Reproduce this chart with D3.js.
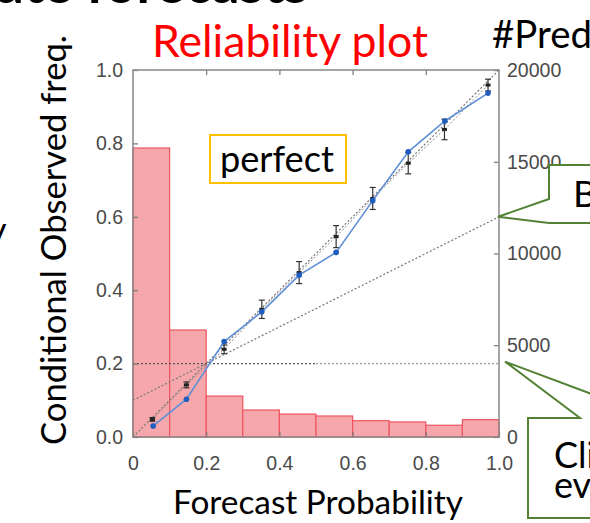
<!DOCTYPE html>
<html>
<head>
<meta charset="utf-8">
<script src="https://d3js.org/d3.v7.min.js"></script>
<style>
  body { margin: 0; background: #fff; }
  svg { display: block; }
  .tick text { font-family: 'Liberation Sans', Arial, sans-serif; fill: #4a4a4a; }
</style>
</head>
<body>
<div id="chart"></div>
<script>
// histogram of forecasts per probability bin (#Pred, right axis)
const binStart = [0, 0.1, 0.2, 0.3, 0.4, 0.5, 0.6, 0.7, 0.8, 0.9];
const binCount = [15750, 5830, 2230, 1470, 1250, 1145, 890, 820, 640, 945];

// reliability curve (blue)
const relProb = [0.055, 0.146, 0.249, 0.352, 0.454, 0.555, 0.655, 0.752, 0.852, 0.970];
const relFreq = [0.030, 0.103, 0.260, 0.341, 0.441, 0.503, 0.644, 0.777, 0.861, 0.937];

// second estimate with error bars (black)
const errProb = [0.053, 0.146, 0.249, 0.352, 0.454, 0.555, 0.655, 0.752, 0.851, 0.970];
const errFreq = [0.048, 0.142, 0.239, 0.348, 0.448, 0.546, 0.650, 0.746, 0.838, 0.959];
const errHalf = [0.005, 0.008, 0.012, 0.025, 0.030, 0.030, 0.030, 0.029, 0.028, 0.016];

const climate = 0.2;
const probTicks = [0, 0.2, 0.4, 0.6, 0.8, 1.0];
const countTicks = [0, 5000, 10000, 15000, 20000];

const W = 590, H = 523;
const svg = d3.select("#chart").append("svg").attr("width", W).attr("height", H);

const x = d3.scaleLinear().domain([0, 1]).range([133, 499]);
const y = d3.scaleLinear().domain([0, 1]).range([437, 70]);
const yc = d3.scaleLinear().domain([0, 20000]).range([437, 70]);

const slide = "Lato, 'Open Sans', sans-serif";

// fit a text to a given width by scaling its font size
function fit(t, w) {
  const len = t.node().getComputedTextLength();
  const fs = parseFloat(t.attr("font-size"));
  t.attr("font-size", fs * w / len);
  return t;
}

// histogram bars
svg.append("g").selectAll("rect")
  .data(binStart.map((b, i) => ({ b, c: binCount[i] })))
  .join("rect")
    .attr("x", d => x(d.b))
    .attr("y", d => yc(d.c))
    .attr("width", d => x(d.b + 0.1) - x(d.b))
    .attr("height", d => yc(0) - yc(d.c))
    .attr("fill", "#f5a7ab")
    .attr("stroke", "#ee5560")
    .attr("stroke-width", 1.2);

// reference lines: perfect, no-skill, climatology
const ref = svg.append("g").attr("fill", "none").attr("stroke-dasharray", "2,2").attr("stroke-width", 1.2);
ref.append("line").attr("x1", x(0)).attr("y1", y(0)).attr("x2", x(1)).attr("y2", y(1)).attr("stroke", "#777");
ref.append("line").attr("x1", x(0)).attr("y1", y(climate / 2)).attr("x2", x(1)).attr("y2", y((1 + climate) / 2)).attr("stroke", "#777");
ref.append("line").attr("x1", x(0)).attr("y1", y(climate)).attr("x2", x(0.5)).attr("y2", y(climate)).attr("stroke", "#555");
ref.append("line").attr("x1", x(0.5)).attr("y1", y(climate)).attr("x2", x(1)).attr("y2", y(climate)).attr("stroke", "#999");

// black series with error bars
const errData = errProb.map((p, i) => ({ p, f: errFreq[i], e: errHalf[i] }));
svg.append("path")
  .datum(errData)
  .attr("fill", "none")
  .attr("stroke", "#888")
  .attr("stroke-width", 1)
  .attr("stroke-dasharray", "2,2")
  .attr("d", d3.line().x(d => x(d.p)).y(d => y(d.f)));

const eb = svg.append("g").attr("stroke", "#333").attr("stroke-width", 1.2);
eb.selectAll("line.v").data(errData).join("line").attr("class", "v")
  .attr("x1", d => x(d.p)).attr("x2", d => x(d.p))
  .attr("y1", d => y(d.f - d.e)).attr("y2", d => y(d.f + d.e));
eb.selectAll("line.t").data(errData).join("line").attr("class", "t")
  .attr("x1", d => x(d.p) - 3).attr("x2", d => x(d.p) + 3)
  .attr("y1", d => y(d.f + d.e)).attr("y2", d => y(d.f + d.e));
eb.selectAll("line.b").data(errData).join("line").attr("class", "b")
  .attr("x1", d => x(d.p) - 3).attr("x2", d => x(d.p) + 3)
  .attr("y1", d => y(d.f - d.e)).attr("y2", d => y(d.f - d.e));
svg.append("g").selectAll("rect").data(errData).join("rect")
  .attr("x", d => x(d.p) - 2.5).attr("y", d => y(d.f) - 1.5)
  .attr("width", 5).attr("height", 3).attr("fill", "#222");

// blue reliability curve
const relData = relProb.map((p, i) => ({ p, f: relFreq[i] }));
svg.append("path")
  .datum(relData)
  .attr("fill", "none")
  .attr("stroke", "#5f8fd6")
  .attr("stroke-width", 1.6)
  .attr("d", d3.line().x(d => x(d.p)).y(d => y(d.f)));
svg.append("g").selectAll("circle").data(relData).join("circle")
  .attr("cx", d => x(d.p)).attr("cy", d => y(d.f)).attr("r", 2.8)
  .attr("fill", "#1f5cc0");

// axes (ticks pointing inward)
function styleAxis(g) {
  g.select(".domain").remove();
  g.selectAll(".tick line").attr("stroke", "#777").attr("stroke-width", 1.2);
  g.selectAll(".tick text").attr("font-size", 19.5);
}
svg.append("g").attr("transform", `translate(${x(0)},0)`)
  .call(d3.axisLeft(y).tickValues(probTicks).tickFormat(d3.format(".1f")).tickSizeInner(-5).tickSizeOuter(0).tickPadding(10))
  .call(styleAxis);
svg.append("g").attr("transform", `translate(0,${y(0)})`)
  .call(d3.axisBottom(x).tickValues(probTicks).tickFormat(d => d === 0 ? "0" : d3.format(".1f")(d)).tickSizeInner(-5).tickSizeOuter(0).tickPadding(19))
  .call(styleAxis);
svg.append("g").attr("transform", `translate(0,${y(1)})`)
  .call(d3.axisTop(x).tickValues(probTicks.slice(1, -1)).tickFormat("").tickSizeInner(-5).tickSizeOuter(0))
  .call(styleAxis);
svg.append("g").attr("transform", `translate(${x(1)},0)`)
  .call(d3.axisRight(yc).tickValues(countTicks).tickFormat(d3.format("d")).tickSizeInner(-5).tickSizeOuter(0).tickPadding(8))
  .call(styleAxis);

// plot frame
svg.append("rect")
  .attr("x", x(0)).attr("y", y(1))
  .attr("width", x(1) - x(0)).attr("height", y(0) - y(1))
  .attr("fill", "none").attr("stroke", "#888").attr("stroke-width", 1.5);

// slide texts
fit(svg.append("text").attr("x", -4).attr("y", 3).attr("font-family", slide).attr("font-weight", "bold")
  .attr("font-size", 40).text("ate forecasts"), 312);

fit(svg.append("text").attr("x", 152).attr("y", 57).attr("font-family", slide).attr("fill", "#ff0000")
  .attr("font-size", 36).text("Reliability plot"), 276);

fit(svg.append("text").attr("x", 492).attr("y", 48).attr("font-family", slide).attr("fill", "#000")
  .attr("font-size", 30).text("#Pred"), 100);

fit(svg.append("text").attr("transform", "translate(66,240) rotate(-90)").attr("text-anchor", "middle")
  .attr("font-family", slide).attr("font-size", 34).text("Conditional Observed freq."), 410);

fit(svg.append("text").attr("x", 173).attr("y", 514).attr("font-family", slide)
  .attr("font-size", 34).text("Forecast Probability"), 290);

svg.append("text").attr("x", -12).attr("y", 243).attr("font-family", slide).attr("font-size", 36).text("y");

// "perfect" label box
svg.append("rect").attr("x", 210).attr("y", 135).attr("width", 136).attr("height", 48)
  .attr("fill", "#fff").attr("stroke", "#ffc000").attr("stroke-width", 2);
fit(svg.append("text").attr("x", 220).attr("y", 172).attr("font-family", slide)
  .attr("font-size", 36).text("perfect"), 114);

// callouts
svg.append("path")
  .attr("d", `M549,165 H640 V223 H549 L498,${y((1 + climate) / 2)} L549,199 Z`)
  .attr("fill", "#fff").attr("stroke", "#548235").attr("stroke-width", 2);
svg.append("text").attr("x", 573).attr("y", 207).attr("font-family", slide).attr("font-size", 37).text("B");

svg.append("path")
  .attr("d", `M528,418 H580 L505,${y(climate) - 2} L656,418 H700 V518 H528 Z`)
  .attr("fill", "#fff").attr("stroke", "#548235").attr("stroke-width", 2);
svg.append("text").attr("x", 554).attr("y", 468).attr("font-family", slide).attr("font-size", 36).text("Cli");
svg.append("text").attr("x", 554).attr("y", 498).attr("font-family", slide).attr("font-size", 36).text("ev");
</script>
</body>
</html>
